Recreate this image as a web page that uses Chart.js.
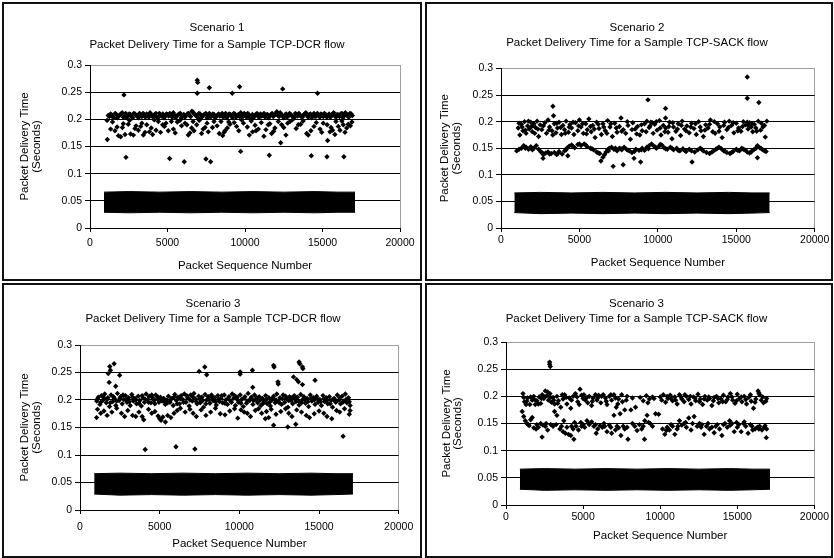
<!DOCTYPE html>
<html>
<head>
<meta charset="utf-8">
<script src="https://cdn.jsdelivr.net/npm/chart.js@4.4.1/dist/chart.umd.min.js"></script>
<style>
  html, body { margin: 0; padding: 0; background: #fff; }
  body { width: 834px; height: 558px; position: relative; overflow: hidden; }
  .box { position: absolute; border: 2px solid #111; box-sizing: border-box; }
  canvas { position: absolute; }
</style>
</head>
<body>
<div class="box" id="b1"></div><div class="box" id="b2"></div>
<div class="box" id="b3"></div><div class="box" id="b4"></div>
<canvas id="c1"></canvas><canvas id="c2"></canvas>
<canvas id="c3"></canvas><canvas id="c4"></canvas>
<script>
// ---------------- DATA ----------------
const xTicks = [0, 5000, 10000, 15000, 20000];
const xTickLabels = ['0', '5000', '10000', '15000', '20000'];
const yTicks = [0, 0.05, 0.1, 0.15, 0.2, 0.25, 0.3];
const yTickLabels = ['0', '0.05', '0.1', '0.15', '0.2', '0.25', '0.3'];
const panelTitles = [
  ['Scenario 1', 'Packet Delivery Time for a Sample TCP-DCR flow'],
  ['Scenario 2', 'Packet Delivery Time for a Sample TCP-SACK flow'],
  ['Scenario 3', 'Packet Delivery Time for a Sample TCP-DCR flow'],
  ['Scenario 3', 'Packet Delivery Time for a Sample TCP-SACK flow']
];
const xAxisTitle = 'Packet Sequence Number';
const yAxisTitle = ['Packet Delivery Time', '(Seconds)'];

// dense low-delay band (edges of the solid mass of packets)
const s1BandX = [900, 2500, 4500, 6500, 8500, 10500, 12500, 14500, 16000, 17100];
const s1BandTop = [0.066, 0.067, 0.066, 0.067, 0.066, 0.067, 0.066, 0.067, 0.066, 0.066];
const s1BandBottom = [0.029, 0.028, 0.029, 0.028, 0.029, 0.028, 0.029, 0.028, 0.029, 0.029];
const s2BandX = [850, 2500, 4500, 6500, 8500, 10500, 12500, 14500, 16000, 17130];
const s2BandTop = [0.066, 0.067, 0.066, 0.067, 0.066, 0.067, 0.066, 0.067, 0.066, 0.066];
const s2BandBottom = [0.029, 0.027, 0.028, 0.027, 0.028, 0.027, 0.028, 0.027, 0.028, 0.029];
const s3BandX = [890, 2500, 4500, 6500, 8500, 10500, 12500, 14500, 16000, 17130];
const s3BandTop = [0.066, 0.067, 0.066, 0.067, 0.066, 0.067, 0.066, 0.067, 0.066, 0.066];
const s3BandBottom = [0.029, 0.027, 0.028, 0.027, 0.028, 0.027, 0.028, 0.027, 0.028, 0.029];
const s4BandX = [900, 2500, 4500, 6500, 8500, 10500, 12500, 14500, 16000, 17120];
const s4BandTop = [0.066, 0.067, 0.066, 0.067, 0.066, 0.067, 0.066, 0.067, 0.066, 0.066];
const s4BandBottom = [0.029, 0.027, 0.028, 0.027, 0.028, 0.027, 0.028, 0.027, 0.028, 0.029];

// Scenario 1, TCP-DCR: individual delayed packets
const s1Points = [
[1100,.198],[1250,.205],[1400,.208],[1550,.203],[1700,.209],[1850,.206],[2000,.210],[2150,.204],[2300,.211],[2450,.207],
[2600,.209],[2750,.203],[2900,.210],[3050,.206],[3200,.211],[3350,.205],[3500,.208],[3650,.210],[3800,.204],[3950,.209],
[4100,.206],[4250,.211],[4400,.203],[4550,.208],[4700,.210],[4850,.205],[5000,.209],[5150,.211],[5300,.204],[5450,.208],
[5600,.206],[5750,.210],[5900,.203],[6050,.209],[6200,.207],[6350,.211],[6500,.205],[6650,.213],[6800,.208],[6950,.204],
[7100,.210],[7250,.206],[7400,.209],[7550,.203],[7700,.211],[7850,.207],[8000,.209],[8150,.205],[8300,.210],[8450,.208],
[8600,.204],[8750,.211],[8900,.206],[9050,.209],[9200,.203],[9350,.210],[9500,.207],[9650,.205],[9800,.209],[9950,.211],
[10100,.204],[10250,.208],[10400,.206],[10550,.203],[10700,.209],[10850,.205],[11000,.210],[11150,.207],[11300,.204],[11450,.209],
[11600,.206],[11750,.211],[11900,.208],[12050,.214],[12200,.205],[12350,.209],[12500,.203],[12650,.210],[12800,.207],[12950,.209],
[13100,.205],[13250,.211],[13400,.206],[13550,.208],[13700,.204],[13850,.210],[14000,.207],[14150,.209],[14300,.203],[14450,.211],
[14600,.206],[14750,.208],[14900,.210],[15050,.205],[15200,.209],[15350,.207],[15500,.204],[15650,.210],[15800,.206],[15950,.209],
[16100,.205],[16250,.211],[16400,.207],[16550,.209],[16700,.204],[16850,.210],
[1175,.207],[1325,.210],[1475,.204],[1625,.211],[1775,.203],[1925,.208],[2075,.212],[2225,.206],[2375,.203],[2525,.210],
[2675,.205],[2825,.211],[2975,.207],[3125,.203],[3275,.208],[3425,.211],[3575,.204],[3725,.207],[3875,.212],[4025,.205],
[4175,.209],[4325,.204],[4475,.211],[4625,.206],[4775,.203],[4925,.210],[5075,.206],[5225,.209],[5375,.212],[5525,.203],
[5675,.208],[5825,.211],[5975,.206],[6125,.204],[6275,.210],[6425,.207],[6575,.215],[6725,.210],[6875,.206],[7025,.211],
[7175,.203],[7325,.208],[7475,.211],[7625,.206],[7775,.204],[7925,.210],[8075,.203],[8225,.208],[8375,.206],[8525,.211],
[8675,.207],[8825,.203],[8975,.210],[9125,.206],[9275,.211],[9425,.204],[9575,.209],[9725,.212],[9875,.205],[10025,.208],
[10175,.211],[10325,.203],[10475,.209],[10625,.207],[10775,.211],[10925,.204],[11075,.206],[11225,.211],[11375,.208],[11525,.203],
[11675,.209],[11825,.205],[11975,.210],[12125,.207],[12275,.212],[12425,.206],[12575,.208],[12725,.204],[12875,.211],[13025,.206],
[13175,.203],[13325,.209],[13475,.211],[13625,.205],[13775,.208],[13925,.212],[14075,.204],[14225,.210],[14375,.207],[14525,.205],
[14675,.211],[14825,.204],[14975,.208],[15125,.211],[15275,.204],[15425,.210],[15575,.206],[15725,.212],[15875,.204],[16025,.208],
[16175,.210],[16325,.203],[16475,.212],[16625,.206],[16775,.211],[16925,.207],
[1330,.182],[1610,.179],[1830,.170],[1980,.168],[2090,.185],[2260,.172],[2470,.191],[2620,.173],[2800,.171],[2970,.188],
[3120,.180],[3270,.187],[3440,.171],[3660,.190],[3830,.177],[4040,.172],[4260,.180],[4410,.196],[4690,.190],[4900,.193],
[5050,.179],[5380,.182],[5630,.195],[5910,.188],[6130,.193],[6340,.171],[6560,.184],[6710,.179],[6880,.190],[7200,.174],
[7420,.185],[7630,.177],[8000,.196],[8340,.174],[8560,.170],[8710,.179],[8860,.184],[9030,.191],[9460,.187],[9780,.199],
[10280,.171],[10490,.177],[10710,.179],[10860,.182],[11220,.169],[11500,.190],[11720,.174],[11930,.184],[12360,.190],[12640,.171],
[12900,.196],[13440,.190],[13590,.191],[13980,.174],[14080,.171],[14450,.187],[14840,.182],[15050,.193],[15480,.177],[15650,.180],
[15870,.196],[16020,.187],[16130,.180],[16340,.190],[16560,.184],[16660,.191],
[1450,.195],[1750,.186],[2150,.192],[2550,.198],[2900,.183],[3350,.193],[3550,.176],[3950,.184],[4150,.199],[4550,.176],
[4800,.187],[5250,.196],[5500,.175],[5800,.198],[6250,.190],[6450,.175],[6650,.196],[7050,.198],[7300,.182],[7550,.193],
[7900,.185],[8200,.188],[8450,.196],[8650,.176],[8950,.195],[9300,.194],[9600,.179],[9900,.193],[10150,.186],[10400,.197],
[10650,.189],[11050,.194],[11350,.181],[11600,.192],[11850,.178],[12150,.196],[12500,.185],[12750,.193],[13050,.199],[13300,.183],
[13750,.197],[14250,.179],[14600,.194],[14950,.176],[15300,.190],[15550,.185],[15800,.172],[16250,.197],[16450,.176],[16800,.188],
[16900,.195],
[6920,.272],[6950,.268],[6920,.248],[2190,.245],[7700,.258],[9180,.248],[9650,.260],[12430,.256],[14680,.248],
[2320,.130],[5140,.128],[6080,.122],[7480,.127],[7780,.122],[9720,.141],[11570,.134],[12300,.157],[14280,.133],
[15290,.131],[15330,.161],[16380,.131],[1120,.163]
];

// Scenario 2, TCP-SACK
const s2Points = [
[1100,.188],[1200,.175],[1300,.195],[1400,.183],[1500,.200],[1600,.178],[1700,.192],[1800,.186],[1900,.199],[2000,.181],
[2100,.196],[2200,.189],[2300,.201],[2400,.172],[2500,.194],[2600,.185],[2800,.198],[2900,.178],[3000,.203],[3100,.190],
[3250,.183],[3400,.196],[3500,.179],[3600,.188],[3700,.199],[3850,.176],[3950,.193],[4050,.185],[4150,.201],[4300,.180],
[4400,.195],[4500,.188],[4650,.176],[4750,.198],[4900,.183],[5000,.203],[5100,.190],[5250,.178],[5400,.196],[5500,.185],
[5600,.205],[5750,.181],[5850,.193],[6000,.170],[6100,.199],[6250,.187],[6400,.176],[6500,.196],[6650,.183],[6800,.202],
[6950,.190],[7100,.172],[7250,.197],[7400,.180],[7550,.191],[7650,.207],[7800,.185],[7950,.178],[8100,.193],[8250,.167],
[8400,.198],[8550,.186],[8700,.191],[8850,.175],[9000,.183],[9150,.196],[9300,.201],[9450,.189],[9550,.199],[9700,.178],
[9800,.195],[9950,.184],[10100,.202],[10200,.175],[10350,.193],[10500,.188],[10650,.180],[10750,.199],[10900,.168],[11000,.190],
[11150,.182],[11300,.196],[11450,.174],[11550,.201],[11700,.186],[11850,.192],[12000,.179],[12150,.197],[12300,.187],[12450,.176],
[12600,.200],[12750,.183],[12900,.172],[13050,.194],[13200,.188],[13350,.203],[13500,.181],[13650,.178],[13800,.196],[13950,.190],
[14100,.170],[14250,.199],[14400,.185],[14550,.201],[14700,.193],[14850,.179],[15000,.197],[15150,.188],[15300,.182],[15450,.200],
[15600,.194],[15750,.186],[15850,.198],[15950,.190],[16050,.181],[16150,.195],[16250,.188],[16400,.201],[16550,.184],[16700,.190],
[16850,.171],[16950,.201],
[1150,.197],[1350,.190],[1550,.184],[1750,.201],[1950,.191],[2150,.178],[2350,.186],[2700,.192],[3050,.184],[3300,.175],
[3550,.197],[3800,.189],[4100,.178],[4350,.190],[4600,.199],[4950,.192],[5200,.196],[5450,.177],[5700,.191],[5950,.186],
[6200,.195],[6550,.190],[6750,.178],[7000,.196],[7350,.188],[7700,.182],[8050,.200],[8350,.185],[8650,.177],[8950,.194],
[9250,.181],[9500,.192],[9650,.198],[9900,.200],[10150,.188],[10450,.181],[10700,.191],[10950,.198],[11250,.186],[11500,.193],
[11800,.183],[12100,.190],[12400,.196],[12700,.190],[13000,.184],[13300,.195],[13600,.200],[13900,.182],[14200,.193],[14500,.189],
[14800,.198],[15100,.183],[15400,.191],[15700,.199],[15800,.192],[16000,.196],[16300,.182],[16600,.197],[16800,.193],
[1000,.145],[1300,.150],[1450,.155],[1600,.152],[1750,.148],[1900,.153],[2100,.150],[2250,.155],[2400,.148],[2550,.143],
[2700,.138],[2850,.141],[3000,.143],[3200,.140],[3400,.142],[3550,.138],[3700,.144],[3900,.139],[4050,.145],[4200,.150],
[4350,.154],[4500,.156],[4700,.151],[4900,.157],[5100,.155],[5300,.158],[5500,.153],[5700,.150],[5900,.147],[6100,.143],
[6300,.140],[6500,.133],[6600,.138],[6700,.143],[6800,.147],[6900,.150],[7050,.152],[7200,.148],[7400,.145],[7550,.150],
[7700,.147],[7850,.152],[8000,.148],[8200,.145],[8350,.142],[8600,.148],[8800,.146],[9000,.150],[9150,.146],[9300,.152],
[9450,.155],[9600,.158],[9750,.154],[9900,.150],[10050,.153],[10250,.156],[10400,.151],[10600,.148],[10800,.152],[11000,.147],
[11200,.150],[11400,.145],[11600,.149],[11800,.144],[12000,.148],[12350,.143],[12550,.147],[12700,.150],[12900,.145],[13100,.142],
[13300,.140],[13550,.145],[13700,.148],[13900,.152],[14050,.149],[14200,.145],[14400,.142],[14600,.140],[14800,.144],[15000,.148],
[15200,.145],[15350,.150],[15550,.147],[15700,.143],[15850,.141],[16000,.145],[16150,.148],[16350,.155],[16500,.151],[16700,.147],
[16900,.144],
[1150,.148],[1550,.150],[2000,.147],[2650,.141],[3100,.139],[3650,.141],[4150,.147],[4600,.153],[5000,.158],[5400,.156],
[5800,.149],[6200,.141],[6850,.145],[7300,.150],[7650,.149],[8100,.146],[8500,.144],[8950,.147],[9400,.149],[9850,.152],
[10150,.157],[10500,.149],[10900,.150],[11300,.146],[11700,.146],[12150,.145],[12800,.148],[13450,.143],[13800,.150],[14300,.144],
[14700,.142],[15100,.146],[15450,.148],[15950,.143],[16250,.150],[16600,.149],[16800,.145],
[15700,.284],[15700,.244],[16440,.236],[9370,.241],[3310,.229],[3350,.211],[10490,.225],[10490,.207],
[7150,.116],[7790,.119],[6370,.126],[8900,.124],[12180,.124],[2680,.131],[4260,.136],[16350,.132],[8480,.131]
];

// Scenario 3, TCP-DCR
const s3Points = [
[1050,.198],[1150,.205],[1250,.192],[1350,.208],[1450,.200],[1550,.211],[1650,.195],[1750,.204],[1850,.188],[1950,.209],
[2050,.197],[2150,.203],[2250,.190],[2350,.212],[2450,.199],[2550,.206],[2650,.193],[2750,.201],[2850,.208],[2950,.196],
[3050,.204],[3150,.190],[3250,.210],[3350,.198],[3450,.203],[3550,.193],[3650,.207],[3750,.199],[3850,.189],[3950,.204],
[4050,.196],[4150,.211],[4250,.201],[4350,.207],[4450,.195],[4550,.204],[4650,.199],[4750,.209],[4850,.202],[4950,.196],
[5050,.205],[5150,.198],[5250,.203],[5350,.192],[5450,.200],[5550,.207],[5650,.196],[5750,.203],[5850,.190],[5950,.210],
[6050,.199],[6150,.205],[6250,.193],[6350,.208],[6450,.201],[6550,.211],[6650,.196],[6750,.204],[6850,.189],[6950,.209],
[7050,.198],[7150,.212],[7250,.202],[7350,.193],[7450,.207],[7550,.195],[7650,.205],[7750,.187],[7850,.210],[7950,.200],
[8050,.206],[8150,.194],[8250,.209],[8350,.199],[8450,.204],[8550,.191],[8650,.208],[8750,.197],[8850,.203],[8950,.195],
[9050,.209],[9150,.200],[9250,.192],[9350,.206],[9450,.198],[9550,.211],[9650,.203],[9750,.190],[9850,.205],[9950,.196],
[10050,.209],[10150,.201],[10250,.188],[10350,.206],[10450,.194],[10550,.212],[10650,.199],[10750,.205],[10850,.192],[10950,.209],
[11050,.201],[11150,.195],[11250,.206],[11350,.190],[11450,.203],[11550,.197],[11650,.208],[11750,.193],[11850,.204],[11950,.189],
[12050,.200],[12150,.207],[12250,.195],[12350,.211],[12450,.198],[12550,.204],[12650,.192],[12750,.209],[12850,.196],[12950,.203],
[13050,.187],[13150,.206],[13250,.199],[13350,.193],[13450,.208],[13550,.197],[13650,.205],[13750,.191],[13850,.210],[13950,.200],
[14050,.206],[14150,.194],[14250,.203],[14350,.188],[14450,.209],[14550,.198],[14650,.204],[14750,.192],[14850,.207],[14950,.196],
[15050,.201],[15150,.190],[15250,.208],[15350,.197],[15450,.204],[15550,.193],[15650,.206],[15750,.199],[15850,.187],[15950,.203],
[16050,.196],[16150,.209],[16250,.200],[16350,.193],[16450,.207],[16550,.198],[16650,.211],[16750,.195],[16850,.204],[16950,.190],
[1100,.202],[1300,.196],[1500,.204],[1700,.201],[1900,.195],[2100,.206],[2300,.198],[2500,.203],[2700,.209],[2900,.200],
[3100,.197],[3300,.205],[3500,.200],[3700,.194],[3900,.208],[4100,.201],[4300,.196],[4500,.209],[4700,.193],[4900,.205],
[5100,.201],[5300,.197],[5500,.195],[5700,.201],[5900,.205],[6100,.193],[6300,.202],[6500,.196],[6700,.208],[6900,.200],
[7100,.205],[7300,.197],[7500,.202],[7700,.199],[7900,.193],[8100,.201],[8300,.205],[8500,.197],[8700,.201],[8900,.208],
[9100,.194],[9300,.203],[9500,.196],[9700,.208],[9900,.200],[10100,.194],[10300,.203],[10500,.198],[10700,.202],[10900,.199],
[11100,.204],[11300,.200],[11500,.194],[11700,.201],[11900,.196],[12100,.203],[12300,.200],[12500,.195],[12700,.202],[12900,.207],
[13100,.199],[13300,.204],[13500,.202],[13700,.198],[13900,.195],[14100,.201],[14300,.197],[14500,.203],[14700,.200],[14900,.202],
[15100,.197],[15300,.202],[15500,.199],[15700,.193],[15900,.201],[16100,.198],[16300,.204],[16500,.196],[16700,.201],[16900,.197],
[1100,.183],[1300,.176],[1500,.180],[1700,.172],[2000,.178],[2300,.185],[2600,.176],[2800,.170],[3000,.181],[3300,.172],
[3500,.170],[3700,.178],[3900,.170],[4000,.164],[4300,.183],[4500,.176],[4700,.179],[4900,.171],[5000,.166],[5200,.169],
[5500,.172],[5700,.168],[5900,.176],[6100,.181],[6300,.185],[6600,.178],[6900,.183],[7100,.176],[7300,.170],[7600,.182],
[7900,.172],[8200,.178],[8500,.185],[8800,.175],[9100,.173],[9400,.180],[9700,.184],[9900,.167],[10100,.182],[10300,.178],
[10500,.176],[10700,.170],[11000,.181],[11200,.184],[11400,.176],[11700,.179],[12000,.183],[12300,.174],[12600,.179],[12900,.184],
[13100,.176],[13300,.170],[13600,.182],[13900,.178],[14200,.172],[14400,.168],[14700,.175],[15000,.180],[15300,.176],[15500,.170],
[15800,.166],[16100,.181],[16300,.178],[16600,.184],[16900,.174],[16950,.181],
[2140,.266],[1870,.261],[1770,.248],[1910,.254],[1830,.232],[2490,.245],[2240,.225],[7480,.252],[7830,.260],[7950,.246],
[10050,.251],[10050,.247],[10820,.254],[10840,.223],[12150,.263],[12180,.260],[12420,.233],[12440,.229],[13750,.269],[13790,.266],
[13960,.260],[13990,.257],[13400,.242],[13600,.237],[13710,.233],[13960,.228],[14750,.236],
[4090,.110],[6020,.115],[7210,.111],[16510,.134],[12150,.154],[13040,.151],[13540,.156],[1040,.168],[5360,.160],[5090,.163],
[11630,.166],[11840,.168]
];

// Scenario 3, TCP-SACK
const s4Points = [
[1100,.205],[1200,.190],[1300,.185],[1400,.197],[1550,.185],[1700,.193],[1800,.200],[1900,.185],[2000,.192],[2150,.199],
[2250,.187],[2350,.203],[2450,.196],[2550,.210],[2650,.201],[2750,.193],[2850,.205],[2950,.189],[3050,.198],[3150,.186],
[3300,.200],[3400,.192],[3550,.180],[3700,.195],[3800,.203],[3950,.186],[4100,.197],[4200,.178],[4350,.200],[4500,.205],
[4650,.190],[4800,.213],[4900,.202],[5000,.196],[5150,.193],[5300,.188],[5400,.200],[5550,.183],[5650,.197],[5800,.203],
[5900,.193],[6000,.202],[6150,.188],[6300,.203],[6450,.197],[6550,.185],[6700,.200],[6850,.193],[7000,.203],[7150,.180],
[7300,.195],[7400,.168],[7550,.190],[7700,.175],[7850,.200],[8200,.197],[8700,.198],[8900,.192],[9100,.201],[9300,.195],
[9500,.199],[9700,.168],[10000,.199],[10200,.203],[10350,.189],[10500,.196],[10650,.202],[10800,.192],[10950,.199],[11100,.186],
[11250,.203],[11400,.195],[11550,.190],[11700,.200],[11850,.194],[12000,.186],[12150,.199],[12300,.192],[12450,.204],[12600,.195],
[12750,.185],[12900,.200],[13050,.193],[13200,.196],[13350,.183],[13500,.198],[13650,.200],[13800,.188],[13950,.195],[14100,.202],
[14250,.190],[14400,.199],[14550,.205],[14700,.193],[14850,.187],[15000,.204],[15150,.196],[15300,.190],[15450,.200],[15600,.186],
[15750,.198],[15900,.191],[16050,.178],[16200,.195],[16350,.210],[16450,.203],[16550,.193],[16700,.188],[16900,.196],
[1150,.198],[1350,.191],[1600,.199],[1850,.194],[2100,.186],[2300,.196],[2500,.199],[2700,.208],[2900,.198],[3100,.193],
[3350,.187],[3650,.203],[3900,.198],[4250,.193],[4600,.199],[4750,.185],[5050,.203],[5250,.198],[5600,.191],[5950,.197],
[6200,.200],[6500,.191],[6800,.203],[7100,.197],[7250,.186],[7500,.203],[7800,.193],[8400,.180],[9200,.188],[9600,.196],
[10100,.193],[10450,.200],[10700,.196],[11000,.193],[11350,.199],[11600,.203],[11950,.200],[12250,.197],[12550,.190],[12850,.195],
[13150,.199],[13450,.192],[13750,.196],[14050,.190],[14350,.194],[14650,.199],[14950,.192],[15250,.199],[15550,.194],[15850,.203],
[16150,.189],[16400,.206],[16650,.199],[16850,.191],
[1050,.172],[1150,.163],[1250,.155],[1350,.150],[1450,.148],[1600,.157],[1700,.161],[1800,.142],[1950,.140],[2100,.143],
[2250,.150],[2400,.147],[2550,.145],[2700,.138],[2900,.148],[3050,.145],[3150,.172],[3300,.165],[3500,.140],[3600,.145],
[3750,.155],[3850,.132],[3950,.143],[4050,.130],[4200,.128],[4350,.140],[4450,.152],[4550,.145],[4700,.138],[4850,.152],
[5000,.148],[5100,.143],[5250,.155],[5400,.148],[5550,.153],[5700,.145],[5850,.132],[5950,.140],[6100,.146],[6250,.143],
[6400,.145],[6550,.135],[6700,.147],[6850,.132],[7000,.165],[7100,.138],[7300,.142],[7450,.128],[7600,.145],[7850,.143],
[8100,.175],[8350,.145],[8500,.137],[8650,.148],[8800,.140],[9000,.155],[9150,.165],[9350,.150],[9500,.145],[9900,.167],
[10150,.140],[10300,.130],[10450,.143],[10600,.138],[10800,.145],[10950,.130],[11100,.140],[11250,.155],[11400,.147],[11550,.150],
[11700,.143],[11850,.160],[12000,.138],[12200,.163],[12400,.145],[12550,.150],[12700,.148],[12850,.130],[13000,.145],[13200,.140],
[13350,.143],[13500,.133],[13700,.148],[13850,.140],[14000,.128],[14200,.150],[14350,.143],[14500,.155],[14650,.150],[14800,.135],
[14950,.152],[15100,.148],[15250,.135],[15400,.150],[15550,.145],[15700,.132],[15850,.148],[16000,.138],[16150,.140],[16300,.143],
[16450,.145],[16600,.138],[16750,.143],[16900,.140],
[1500,.146],[2000,.148],[2600,.150],[3250,.148],[3700,.135],[4250,.145],[4900,.145],[5350,.150],[5800,.148],[6350,.150],
[6800,.143],[7200,.145],[7700,.140],[8200,.150],[8900,.145],[9250,.152],[10400,.137],[10700,.148],[11150,.145],[11650,.152],
[12100,.150],[12650,.143],[13100,.150],[13600,.145],[14100,.148],[14550,.147],[15000,.143],[15450,.153],[15950,.145],[16400,.140],
[16800,.146],
[2830,.263],[2830,.259],[2870,.255],[2340,.125],[4400,.121],[7910,.121],[8980,.121],[16880,.124]
];

// ---------------- LAYOUT (positions only) ----------------
const panelLayout = [
  { box: [2, 2, 420, 279], canvas: [4, 4, 416, 275], pl: 30, pr: 20, yw: 56, xh: 51,
    tLH: 17, tPT: 15.5, tPB: 11.5, yTitlePT: -14.75, xTickPad: 4.7, xTitlePB: 6.1 },
  { box: [425, 2, 408, 279], canvas: [427, 4, 404, 275], pl: 30, pr: 14, yw: 44, xh: 51,
    tLH: 15.5, tPT: 16, tPB: 17.5, yTitlePT: -17.75, xTickPad: 1.7, xTitlePB: 8.8 },
  { box: [2, 283, 420, 275], canvas: [4, 285, 416, 271], pl: 21, pr: 19, yw: 55, xh: 46,
    tLH: 14.5, tPT: 12, tPB: 19, yTitlePT: -5.75, xTickPad: 6.7, xTitlePB: 5.4 },
  { box: [425, 283, 408, 275], canvas: [427, 285, 404, 271], pl: 29, pr: 14, yw: 50, xh: 51,
    tLH: 14.8, tPT: 11.6, tPB: 15.8, yTitlePT: -15.05, xTickPad: 2, xTitlePB: 12.8 }
];

const panelData = [
  { pts: s1Points, bx: s1BandX, bt: s1BandTop, bb: s1BandBottom },
  { pts: s2Points, bx: s2BandX, bt: s2BandTop, bb: s2BandBottom },
  { pts: s3Points, bx: s3BandX, bt: s3BandTop, bb: s3BandBottom },
  { pts: s4Points, bx: s4BandX, bt: s4BandTop, bb: s4BandBottom }
];

const FONT = "'Liberation Sans', Arial, sans-serif";

panelLayout.forEach((L, i) => {
  const box = document.getElementById('b' + (i + 1));
  box.style.left = L.box[0] + 'px'; box.style.top = L.box[1] + 'px';
  box.style.width = L.box[2] + 'px'; box.style.height = L.box[3] + 'px';
  const cv = document.getElementById('c' + (i + 1));
  cv.style.left = L.canvas[0] + 'px'; cv.style.top = L.canvas[1] + 'px';
  cv.width = L.canvas[2]; cv.height = L.canvas[3];
  cv.style.width = L.canvas[2] + 'px'; cv.style.height = L.canvas[3] + 'px';

  const D = panelData[i];
  new Chart(cv, {
    type: 'scatter',
    data: {
      datasets: [
        { label: 'band top', data: D.bx.map((x, k) => ({ x: x, y: D.bt[k] })), showLine: true,
          borderColor: '#000', borderWidth: 1, backgroundColor: '#000', pointRadius: 0, fill: '+1', tension: 0 },
        { label: 'band bottom', data: D.bx.map((x, k) => ({ x: x, y: D.bb[k] })), showLine: true,
          borderColor: '#000', borderWidth: 1, backgroundColor: '#000', pointRadius: 0, fill: false, tension: 0 },
        { label: 'packets', data: D.pts.map(p => ({ x: p[0], y: p[1] })), pointStyle: 'rectRot',
          pointRadius: 2.7, backgroundColor: '#000', borderColor: '#000', borderWidth: 0 }
      ]
    },
    options: {
      responsive: false, animation: false, devicePixelRatio: 1, events: [],
      layout: { padding: { left: L.pl, right: L.pr, top: 0, bottom: 0 } },
      plugins: {
        legend: { display: false }, tooltip: { enabled: false },
        title: { display: true, text: panelTitles[i], color: '#000',
          font: { family: FONT, size: 11.5, weight: 'normal', lineHeight: L.tLH + 'px' },
          padding: { top: L.tPT, bottom: L.tPB } }
      },
      scales: {
        x: {
          type: 'linear', min: 0, max: 20000,
          afterBuildTicks: s => { s.ticks = xTicks.map(v => ({ value: v })); },
          afterFit: s => { s.height = L.xh; },
          ticks: { callback: (v, k) => xTickLabels[k], color: '#000', padding: L.xTickPad, maxRotation: 0,
            font: { family: FONT, size: 10.5 } },
          grid: { color: c => (c.tick && c.tick.value === 20000) ? '#a0a0a0' : 'rgba(0,0,0,0)',
            tickColor: '#000', tickLength: 4, drawTicks: true },
          border: { display: true, color: '#000', width: 1 },
          title: { display: true, text: xAxisTitle, color: '#000',
            font: { family: FONT, size: 11.5 }, padding: { top: 0, bottom: L.xTitlePB } }
        },
        y: {
          type: 'linear', min: 0, max: 0.3,
          afterBuildTicks: s => { s.ticks = yTicks.map(v => ({ value: v })); },
          afterFit: s => { s.width = L.yw; },
          ticks: { callback: (v, k) => yTickLabels[k], color: '#000', padding: 3,
            font: { family: FONT, size: 10.5 } },
          grid: { color: c => (c.tick && c.tick.value === 0.3) ? '#a0a0a0' : '#000',
            tickColor: '#000', tickLength: 5, drawTicks: true },
          border: { display: true, color: '#000', width: 1 },
          title: { display: true, text: yAxisTitle, color: '#000',
            font: { family: FONT, size: 11.5, lineHeight: '11.5px' }, padding: { top: L.yTitlePT, bottom: 0 } }
        }
      }
    }
  });
});
</script>
</body>
</html>
